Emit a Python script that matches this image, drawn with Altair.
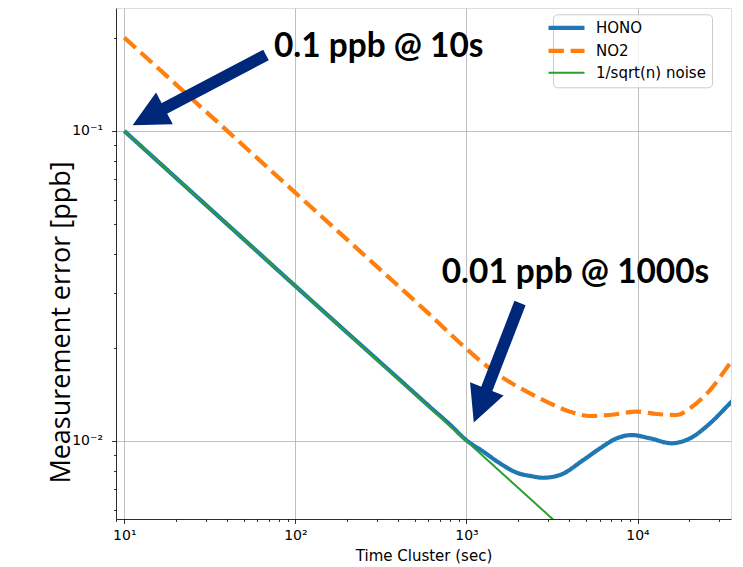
import altair as alt
import pandas as pd

# ---------------- data ----------------
series_names = ["HONO", "NO2", "1/sqrt(n) noise"]
series_colors = ["#1f77b4", "#ff7f0e", "#2ca02c"]

hono_x = [10, 20, 50, 100, 200, 400, 600, 800, 1000, 1255, 1570, 1970, 2400, 2810,
          3520, 4820, 6040, 7560, 9250, 11830, 15840, 20270, 26530, 34720, 36500]
hono_y = [0.1, 0.0707, 0.0447, 0.0316, 0.0224, 0.0159, 0.0130, 0.0113, 0.01005, 0.00924,
          0.00847, 0.0079, 0.0077, 0.00761, 0.00777, 0.00868, 0.00947, 0.0102, 0.01045,
          0.0102, 0.00983, 0.0102, 0.0114, 0.01323, 0.0136]

no2_x = [10, 30, 100, 300, 600, 917, 1255, 1719, 2352, 3078, 4030, 5277, 6905, 9893,
         12950, 16950, 20270, 26530, 34720, 36500]
no2_y = [0.2, 0.1155, 0.0632, 0.0365, 0.0258, 0.0207, 0.0178, 0.0157, 0.01425, 0.01323,
         0.01243, 0.01204, 0.01213, 0.01243, 0.01222, 0.01213, 0.01275, 0.0146, 0.01781, 0.0185]

noise_x = [10, 100, 1000, 4000]
noise_y = [0.1, 0.0316, 0.01, 0.005]

x_ticks = [9, 10, 20, 30, 40, 50, 60, 70, 80, 90, 100, 200, 300, 400, 500, 600, 700, 800, 900,
           1000, 2000, 3000, 4000, 5000, 6000, 7000, 8000, 9000, 10000, 20000, 30000]
y_ticks = [0.006, 0.007, 0.008, 0.009, 0.01, 0.02, 0.03, 0.04, 0.05, 0.06, 0.07, 0.08, 0.09,
           0.1, 0.2]

x_domain = [8.942, 35190]
y_domain = [0.005602, 0.24927]

# annotations (data coordinates)
note_text = ["0.1 ppb @ 10s", "0.01 ppb @ 1000s"]
note_x = [75.0, 716.9]
note_y = [0.1733, 0.03234]

arrow_id = ["a1", "a1", "a2", "a2"]
arrow_x = [67.33, 13.85, 2056, 1205]
arrow_y = [0.1759, 0.1111, 0.02787, 0.0130]

head_x = [13.85, 1205]
head_y = [0.1111, 0.0130]
head_angle = [242.2, 201.2]

navy = "#00287a"

# ---------------- frames ----------------
df_hono = pd.DataFrame({"x": hono_x, "y": hono_y, "series": "HONO"})
df_no2 = pd.DataFrame({"x": no2_x, "y": no2_y, "series": "NO2"})
df_noise = pd.DataFrame({"x": noise_x, "y": noise_y, "series": "1/sqrt(n) noise"})
df_notes = pd.DataFrame({"x": note_x, "y": note_y, "label": note_text})
df_arrows = pd.DataFrame({"x": arrow_x, "y": arrow_y, "arrow": arrow_id})
df_heads = pd.DataFrame({"x": head_x, "y": head_y, "ang": head_angle})

x_major_test = "indexof([10,100,1000,10000], datum.value) >= 0"
y_major_test = "indexof([0.1,0.01], datum.value) >= 0"

x_axis = alt.Axis(
    values=x_ticks,
    title="Time Cluster (sec)",
    titleFont="DejaVu Sans", titleFontSize=15, titleFontWeight="normal", titleColor="black",
    titleBaseline="alphabetic", titleY=41.7,
    labelExpr="datum.value == 10 ? '10\u00b9' : datum.value == 100 ? '10\u00b2' : "
              "datum.value == 1000 ? '10\u00b3' : datum.value == 10000 ? '10\u2074' : ''",
    labelFont="DejaVu Sans", labelFontSize=14, labelColor="black",
    labelBaseline="alphabetic", labelPadding=16, labelFlush=False, labelOverlap=False,
    tickColor="black", tickWidth=0.8,
    tickSize={"condition": {"test": x_major_test, "value": 4.5}, "value": 2.5},
    grid=True, gridColor="#b0b0b0", gridWidth=0.8,
    gridOpacity={"condition": {"test": x_major_test, "value": 1}, "value": 0},
    domainColor="black", domainWidth=0.8,
)

y_axis = alt.Axis(
    values=y_ticks,
    title="Measurement error [ppb]",
    titleFont="Open Sans", titleFontSize=27, titleFontWeight="normal", titleColor="black",
    titleAngle=270, titleBaseline="alphabetic", titleAlign="center",
    titleX=-47, titleY=314,
    labelExpr="datum.value == 0.1 ? '10\u207b\u00b9' : datum.value == 0.01 ? '10\u207b\u00b2' : ''",
    labelFont="DejaVu Sans", labelFontSize=14, labelColor="black",
    labelPadding=9, labelOverlap=False, labelFlush=False,
    tickColor="black", tickWidth=0.8,
    tickSize={"condition": {"test": y_major_test, "value": 4.5}, "value": 2.5},
    grid=True, gridColor="#b0b0b0", gridWidth=0.8,
    gridOpacity={"condition": {"test": y_major_test, "value": 1}, "value": 0},
    domainColor="black", domainWidth=0.8,
)

X = alt.X("x:Q", scale=alt.Scale(type="log", domain=x_domain), axis=x_axis)
Y = alt.Y("y:Q", scale=alt.Scale(type="log", domain=y_domain), axis=y_axis)

legend = alt.Legend(
    title=None, orient="none", legendX=437, legendY=6.3,
    symbolType="M-2,0L2,0", symbolSize=324,
    labelFont="DejaVu Sans", labelFontSize=15, labelColor="black",
    labelOffset=22, rowPadding=6, padding=6,
    fillColor="rgba(255,255,255,0.8)", strokeColor="#cccccc", cornerRadius=4,
    symbolStrokeWidth=alt.ExprRef("datum.value === '1/sqrt(n) noise' ? 2 : 4.2"),
)

color = alt.Color("series:N", scale=alt.Scale(domain=series_names, range=series_colors), legend=legend)
dash = alt.StrokeDash("series:N", scale=alt.Scale(domain=series_names, range=[[1, 0], [15.4, 6.7], [1, 0]]), legend=legend)


def series_layer(df, lw, interp):
    return alt.Chart(df).mark_line(clip=True, interpolate=interp, strokeCap="butt", strokeWidth=lw).encode(
        x=X, y=Y, color=color, strokeDash=dash
    )


hono = series_layer(df_hono, 4.2, "monotone")
no2 = series_layer(df_no2, 4.2, "monotone")
noise = series_layer(df_noise, 2, "linear")

shafts = alt.Chart(df_arrows).mark_line(color=navy, strokeWidth=12, strokeCap="butt").encode(
    x=X, y=Y, detail="arrow:N"
)
heads = alt.Chart(df_heads).mark_point(
    shape="M0,-1L1,1L-1,1Z", filled=True, size=1296, color=navy, opacity=1, strokeWidth=0
).encode(x=X, y=Y, angle=alt.Angle("ang:Q", scale=None))

notes = alt.Chart(df_notes).mark_text(
    align="left", baseline="alphabetic", font="Lato", fontSize=33.4, fontWeight="bold", color="black"
).encode(x=X, y=Y, text="label:N")

chart = alt.layer(hono, no2, noise, shafts, heads, notes).properties(
    width=615, height=511,
    autosize=alt.AutoSizeParams(type="none"),
    padding={"left": 108, "top": 0, "right": 4, "bottom": 52},
).configure_view(stroke="black", strokeWidth=0.8).configure(background="white")

chart.save("out.html", embed_options={"renderer": "svg", "actions": False})
